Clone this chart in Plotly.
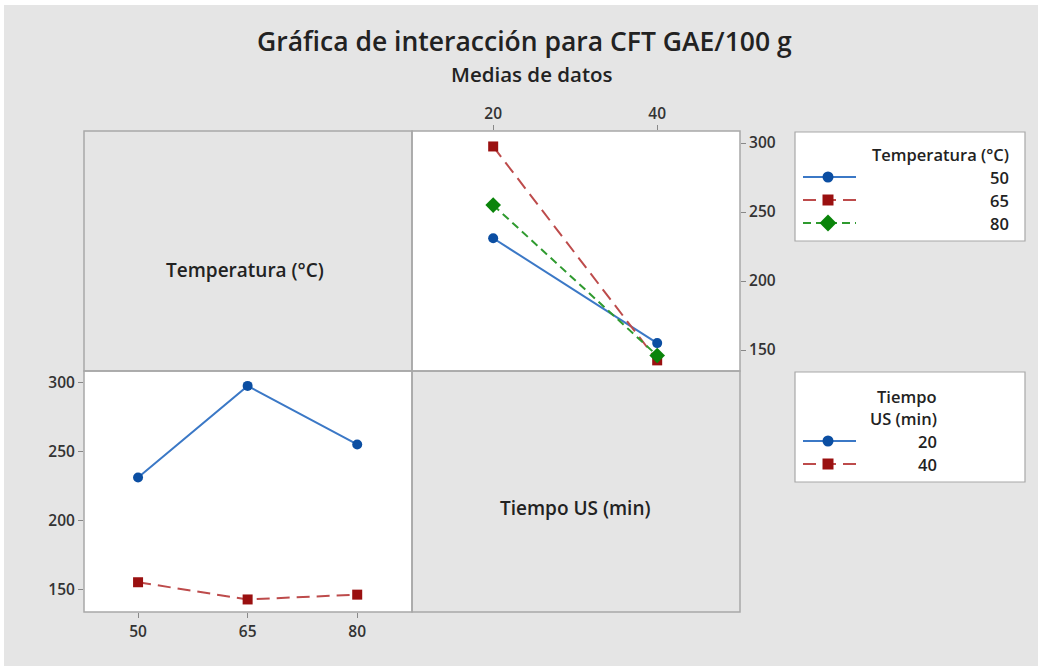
import plotly.graph_objects as go

# ---------------- data ----------------
temperaturas = [50, 65, 80]            # Temperatura (°C)
tiempos = [20, 40]                     # Tiempo US (min)
# medias CFT (GAE/100 g): filas = temperatura, columnas = tiempo
media_T50 = [231, 155]
media_T65 = [297.5, 142.5]
media_T80 = [255, 146]
# same data viewed by tiempo across temperaturas
media_t20 = [media_T50[0], media_T65[0], media_T80[0]]
media_t40 = [media_T50[1], media_T65[1], media_T80[1]]

titulo = "Gráfica de interacción para CFT GAE/100 g"
subtitulo = "Medias de datos"
etiqueta_temp = "Temperatura (°C)"
etiqueta_tiempo = "Tiempo US (min)"

W, H = 1038, 666
FONT = "Open Sans"
BLUE_L, BLUE_M = "#3b78c6", "#0b4ea2"
RED_L, RED_M = "#bd4b4b", "#9a1010"
GRN_L, GRN_M = "#2f9a2f", "#0a840a"
GRID_C = "#a8a8a8"
BG = "#e5e5e5"

def px(x):
    return x / W

def py(y):
    return 1 - y / H

X0, X1, X2 = 84, 412, 740
Y0, Y1, Y2 = 131, 371, 612

fig = go.Figure()

styles_temp = [
    (media_T50, BLUE_L, BLUE_M, "solid", "circle", 10),
    (media_T65, RED_L, RED_M, "13px,7px", "square", 10),
    (media_T80, GRN_L, GRN_M, "8px,5px", "diamond", 12),
]
for vals, lc, mc, dash, sym, ms in styles_temp:
    fig.add_trace(go.Scatter(
        x=tiempos, y=vals, mode="lines+markers", xaxis="x2", yaxis="y2",
        line=dict(color=lc, width=2, dash=dash),
        marker=dict(color=mc, symbol=sym, size=ms), showlegend=False))

styles_time = [
    (media_t20, BLUE_L, BLUE_M, "solid", "circle", 10),
    (media_t40, RED_L, RED_M, "13px,7px", "square", 10),
]
for vals, lc, mc, dash, sym, ms in styles_time:
    fig.add_trace(go.Scatter(
        x=temperaturas, y=vals, mode="lines+markers", xaxis="x", yaxis="y",
        line=dict(color=lc, width=2, dash=dash),
        marker=dict(color=mc, symbol=sym, size=ms), showlegend=False))

# legend samples (drawn on a pixel overlay axis)
leg1 = [(177, styles_temp[0]), (200, styles_temp[1]), (223, styles_temp[2])]
leg2 = [(441, styles_time[0]), (464, styles_time[1])]
for yy, st in leg1 + leg2:
    _, lc, mc, dash, sym, ms = st
    fig.add_trace(go.Scatter(
        x=[803, 828, 856], y=[yy, yy, yy], mode="lines", xaxis="x3", yaxis="y3",
        line=dict(color=lc, width=2, dash=dash), showlegend=False, hoverinfo="skip"))
    fig.add_trace(go.Scatter(
        x=[828], y=[yy], mode="markers", xaxis="x3", yaxis="y3",
        marker=dict(color=mc, symbol=sym, size=ms + 1), showlegend=False, hoverinfo="skip"))

shapes = []
def rect(x0, y0, x1, y1, fill=None, line=None, lw=1.5, layer="below"):
    d = dict(type="rect", xref="paper", yref="paper", x0=px(x0), y0=py(y0), x1=px(x1), y1=py(y1),
             layer=layer, line=dict(width=lw if line else 0, color=line or "rgba(0,0,0,0)"))
    if fill:
        d["fillcolor"] = fill
    shapes.append(d)

rect(4, 5, W + 2, H + 2, fill=BG)
rect(X1, Y0, X2, Y1, fill="white")
rect(X0, Y1, X1, Y2, fill="white")
rect(X0, Y0, X1, Y1, line=GRID_C)
rect(X1, Y0, X2, Y1, line=GRID_C)
rect(X0, Y1, X1, Y2, line=GRID_C)
rect(X1, Y1, X2, Y2, line=GRID_C)
rect(795, 132, 1025, 241, fill="white", line=GRID_C, lw=1.2)
rect(795, 372, 1025, 482, fill="white", line=GRID_C, lw=1.2)

ann = []
def text(x, y, s, size, anchor="center", color="#222", weight=None):
    f = dict(family=FONT, size=size, color=color)
    if weight:
        f["weight"] = weight
    ann.append(dict(x=x, y=y, xref="x3", yref="y3", text=s, showarrow=False,
                    xanchor=anchor, yanchor="middle", font=f))

text(524, 41, titulo, 26.5, weight=600)
text(532, 74, subtitulo, 20.5, weight=600)
text(245, 270, etiqueta_temp, 19, weight=600)
text(575, 508, etiqueta_tiempo, 19, weight=600)
text(1011, 154, "Temperatura (°C)", 16.5, anchor="right", weight=600)
for (yy, _), lab in zip(leg1, temperaturas):
    text(1011, yy, str(lab), 16.5, anchor="right", weight=600)
text(939, 396, "Tiempo", 16.5, anchor="right", weight=600)
text(939, 418, "US (min)", 16.5, anchor="right", weight=600)
for (yy, _), lab in zip(leg2, tiempos):
    text(939, yy, str(lab), 16.5, anchor="right", weight=600)

tickfont = dict(family=FONT, size=15.5, color="#333", weight=600)
axis_common = dict(showgrid=False, zeroline=False, showline=False, ticks="outside",
                   ticklen=5, tickcolor="#888", tickfont=tickfont)

fig.update_layout(
    width=W, height=H, margin=dict(l=0, r=0, t=0, b=0),
    paper_bgcolor="white", plot_bgcolor="rgba(0,0,0,0)",
    showlegend=False,
    xaxis=dict(domain=[px(X0), px(X1)], range=[42.6, 87.5], tickvals=temperaturas,
               anchor="y", **axis_common),
    yaxis=dict(domain=[py(Y2), py(Y1)], range=[133.4, 308.3], tickvals=[150, 200, 250, 300],
               anchor="x", **axis_common),
    xaxis2=dict(domain=[px(X1), px(X2)], range=[10.1, 50.1], tickvals=tiempos,
                side="top", anchor="y2", **axis_common),
    yaxis2=dict(domain=[py(Y1), py(Y0)], range=[134.8, 308.7], tickvals=[150, 200, 250, 300],
                side="right", anchor="x2", **axis_common),
    xaxis3=dict(domain=[0, 1], range=[0, W], visible=False, anchor="y3"),
    yaxis3=dict(domain=[0, 1], range=[H, 0], visible=False, anchor="x3"),
    shapes=shapes, annotations=ann,
)

fig.write_html("out.html")
